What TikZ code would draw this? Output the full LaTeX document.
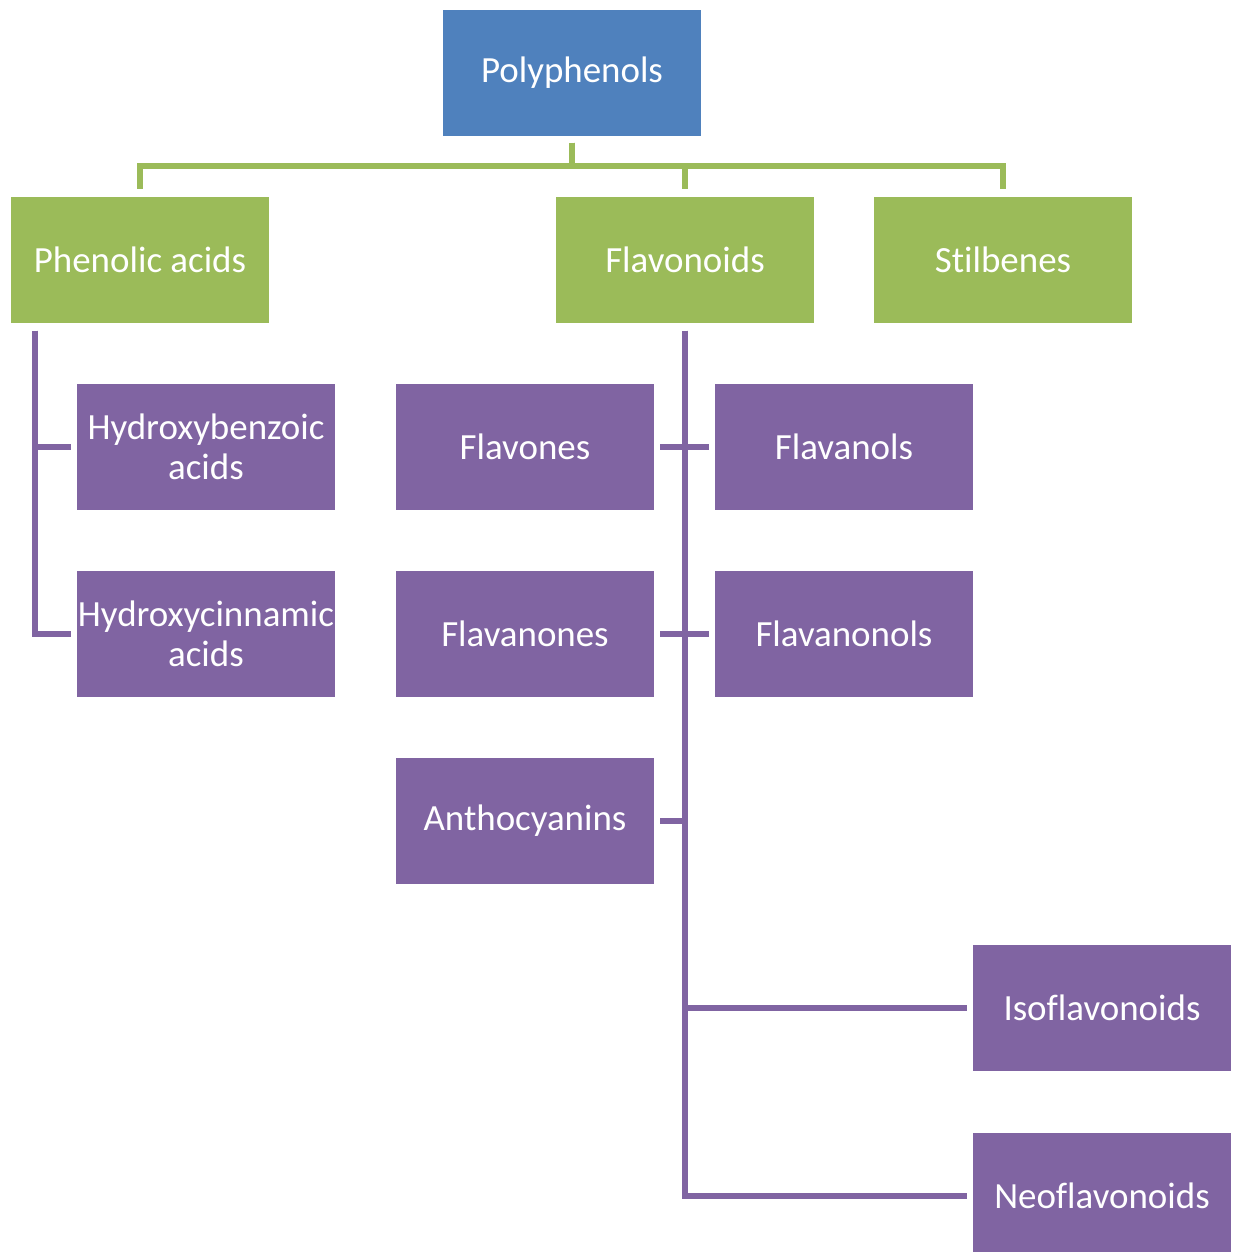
\documentclass[tikz,border=0pt]{standalone}
\usepackage{fontspec}
\setmainfont[Ligatures=NoCommon]{Carlito}
\usetikzlibrary{calc}
\definecolor{polyblue}{HTML}{4F81BD}
\definecolor{classgreen}{HTML}{9BBB59}
\definecolor{subpurple}{HTML}{8064A2}
\tikzset{
  box/.style={rectangle, inner sep=0pt, minimum width=2.57cm, minimum height=1.26cm,
    text=white, align=center, font=\fontsize{10.5}{11.4}\selectfont},
  greenline/.style={draw=classgreen, line width=1.6pt},
  purpleline/.style={draw=subpurple, line width=1.6pt}
}
\begin{document}
\begin{tikzpicture}[x=0.01cm, y=-0.01cm]
  \useasboundingbox (0,0) rectangle (1236,1252);
  % 맨 위
  \node[box, fill=polyblue] (poly) at (572,73) {Polyphenols};
  % 둘째 줄
  \node[box, fill=classgreen] (phen) at (140,260) {Phenolic acids};
  \node[box, fill=classgreen] (flav) at (685,260) {Flavonoids};
  \node[box, fill=classgreen] (stil) at (1003,260) {Stilbenes};
  % 셋째 줄 이하
  \node[box, fill=subpurple] (hbenz) at (206,447) {Hydroxybenzoic\\acids};
  \node[box, fill=subpurple] (hcinn) at (206,634) {Hydroxycinnamic\\acids};
  \node[box, fill=subpurple] (fones) at (525,447) {Flavones};
  \node[box, fill=subpurple] (fanols) at (844,447) {Flavanols};
  \node[box, fill=subpurple] (fanones) at (525,634) {Flavanones};
  \node[box, fill=subpurple] (fanonols) at (844,634) {Flavanonols};
  \node[box, fill=subpurple] (antho) at (525,821) {Anthocyanins};
  \node[box, fill=subpurple] (isofl) at (1102,1008) {Isoflavonoids};
  \node[box, fill=subpurple] (neofl) at (1102,1196) {Neoflavonoids};
  % 초록 연결선
  \draw[greenline, shorten <=0.06cm, shorten >=0.07cm] (poly.south) -- ++(0,29) -| (phen.north);
  \draw[greenline, shorten <=0.06cm, shorten >=0.07cm] (poly.south) -- ++(0,29) -| (flav.north);
  \draw[greenline, shorten <=0.06cm, shorten >=0.07cm] (poly.south) -- ++(0,29) -| (stil.north);
  % 보라 연결선
  \coordinate (pa) at ($(phen.south west)+(24,0)$);
  \draw[purpleline, shorten <=0.07cm, shorten >=0.06cm] (pa) |- (hbenz.west);
  \draw[purpleline, shorten <=0.07cm, shorten >=0.06cm] (pa) |- (hcinn.west);
  \draw[purpleline, shorten <=0.07cm, shorten >=0.06cm] (flav.south) |- (isofl.west);
  \draw[purpleline, shorten <=0.07cm, shorten >=0.06cm] (flav.south) |- (neofl.west);
  \draw[purpleline, shorten <=0.06cm, shorten >=0.06cm] (fones.east) -- (fanols.west);
  \draw[purpleline, shorten <=0.06cm, shorten >=0.06cm] (fanones.east) -- (fanonols.west);
  \draw[purpleline, shorten <=0.06cm] (antho.east) -- (antho.east -| flav.south);
\end{tikzpicture}
\end{document}
